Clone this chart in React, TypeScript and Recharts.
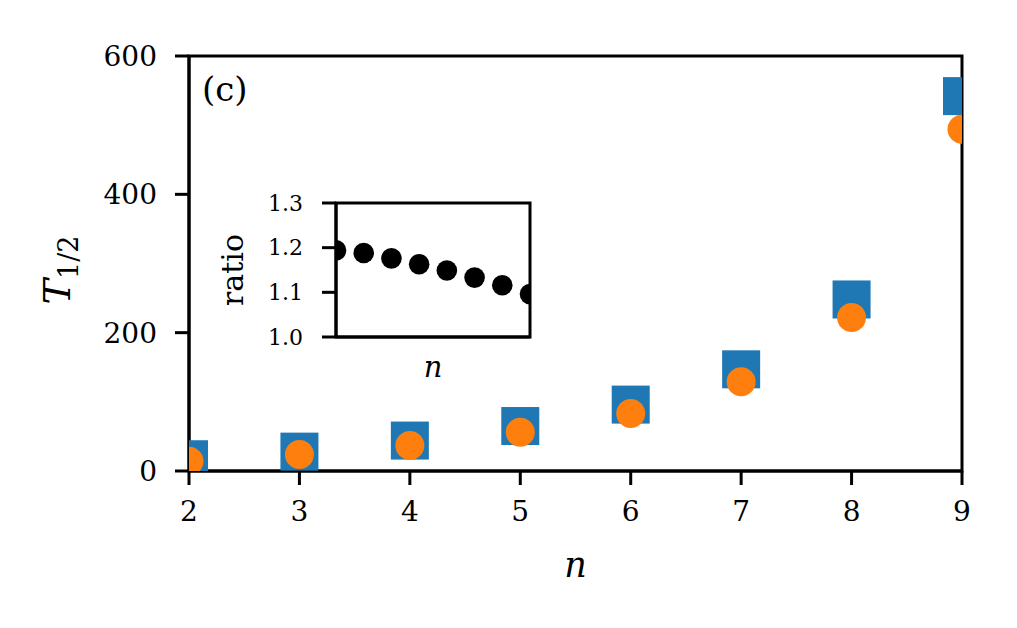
import React from 'react';
import { ScatterChart, Scatter, XAxis, YAxis, ReferenceArea } from 'recharts';

const nValues = [2, 3, 4, 5, 6, 7, 8, 9];
const squareT = [17, 28, 44, 65, 96, 147, 248, 542];
const circleT = [14, 24, 37, 56, 83, 129, 222, 494];
const ratioValues = [1.194, 1.188, 1.176, 1.163, 1.149, 1.133, 1.116, 1.096];

const xTicks = [2, 3, 4, 5, 6, 7, 8, 9];
const yTicks = [0, 200, 400, 600];
const insetYTicks = [1.0, 1.1, 1.2, 1.3];

const squareData = nValues.map((n, i) => ({ n, t: squareT[i] }));
const circleData = nValues.map((n, i) => ({ n, t: circleT[i] }));
const ratioData = nValues.map((n, i) => ({ n, r: ratioValues[i] }));

const FONT = '"DejaVu Serif", serif';
const BLUE = '#1f77b4';
const ORANGE = '#ff7f0e';

const W = 1017;
const H = 628;

// main plot area
const M = { left: 189, top: 56, right: 962, bottom: 471 };
// inset plot area
const I = { left: 336, top: 203, right: 530, bottom: 337 };

const SquareShape = (props: any) => {
  const { cx, cy } = props;
  if (cx == null || cy == null) return null;
  return <rect x={cx - 19} y={cy - 19} width={38} height={38} fill={BLUE} />;
};

const CircleShape = (props: any) => {
  const { cx, cy } = props;
  if (cx == null || cy == null) return null;
  return <circle cx={cx} cy={cy} r={14.5} fill={ORANGE} />;
};

const DotShape = (props: any) => {
  const { cx, cy } = props;
  if (cx == null || cy == null) return null;
  return <circle cx={cx} cy={cy} r={10.3} fill="#000" />;
};

const MainXLabel = (props: any) => {
  const vb = props.viewBox || { x: M.left, y: M.bottom, width: M.right - M.left };
  return (
    <text x={vb.x + vb.width / 2} y={vb.y + 106} textAnchor="middle" fontFamily={FONT} fontStyle="italic" fontSize={35} fill="#000">
      n
    </text>
  );
};

const MainYLabel = () => {
  const cx = 70;
  const cy = 270;
  return (
    <text x={cx} y={cy} transform={`rotate(-90 ${cx} ${cy})`} textAnchor="middle" fontFamily={FONT} fill="#000">
      <tspan fontStyle="italic" fontSize={38}>T</tspan>
      <tspan fontSize={27} dy={8}>1/2</tspan>
    </text>
  );
};

const PanelLabel = (props: any) => {
  const vb = props.viewBox || { x: M.left, y: M.top };
  return (
    <text x={vb.x + 13} y={vb.y + 45} fontFamily={FONT} fontSize={34} fill="#000">
      (c)
    </text>
  );
};

const InsetXLabel = (props: any) => {
  const vb = props.viewBox || { x: I.left, y: I.bottom, width: I.right - I.left };
  return (
    <text x={vb.x + vb.width / 2} y={vb.y + 40} textAnchor="middle" fontFamily={FONT} fontStyle="italic" fontSize={29} fill="#000">
      n
    </text>
  );
};

const InsetYLabel = () => {
  const cx = 243;
  const cy = 270;
  return (
    <text x={cx} y={cy} transform={`rotate(-90 ${cx} ${cy})`} textAnchor="middle" fontFamily={FONT} fontSize={30} fill="#000">
      ratio
    </text>
  );
};

const axisStroke = { stroke: '#000', strokeWidth: 3 };

export default function App() {
  return (
    <div style={{ position: 'absolute', left: 0, top: 0, width: W, height: H, background: '#fff', fontFamily: FONT }}>
      <div style={{ position: 'absolute', left: 0, top: 0 }}>
        <ScatterChart
          width={W}
          height={H}
          margin={{ top: M.top, right: W - M.right, bottom: 0, left: 0 }}
        >
          <XAxis
            type="number"
            dataKey="n"
            domain={[2, 9]}
            ticks={xTicks}
            allowDataOverflow
            height={H - M.bottom}
            axisLine={axisStroke}
            tickLine={axisStroke}
            tickSize={14}
            tickMargin={16}
            tick={{ fill: '#000', fontSize: 28, fontFamily: FONT }}
            label={<MainXLabel />}
          />
          <YAxis
            type="number"
            dataKey="t"
            domain={[0, 600]}
            ticks={yTicks}
            allowDataOverflow
            width={M.left}
            axisLine={axisStroke}
            tickLine={axisStroke}
            tickSize={14}
            tickMargin={18}
            tick={{ fill: '#000', fontSize: 28, fontFamily: FONT }}
            label={<MainYLabel />}
          />
          <Scatter data={squareData} shape={SquareShape} isAnimationActive={false} />
          <Scatter data={circleData} shape={CircleShape} isAnimationActive={false} />
          <ReferenceArea
            x1={2}
            x2={9}
            y1={0}
            y2={600}
            fill="none"
            fillOpacity={0}
            stroke="#000"
            strokeWidth={3}
            label={<PanelLabel />}
          />
        </ScatterChart>
      </div>
      <div style={{ position: 'absolute', left: 0, top: 0 }}>
        <ScatterChart
          width={W}
          height={H}
          margin={{ top: I.top, right: W - I.right, bottom: 0, left: 0 }}
        >
          <XAxis
            type="number"
            dataKey="n"
            domain={[2, 9]}
            allowDataOverflow
            height={H - I.bottom}
            axisLine={axisStroke}
            tick={false}
            tickLine={false}
            label={<InsetXLabel />}
          />
          <YAxis
            type="number"
            dataKey="r"
            domain={[1.0, 1.3]}
            ticks={insetYTicks}
            allowDataOverflow
            width={I.left}
            axisLine={axisStroke}
            tickLine={axisStroke}
            tickSize={14}
            tickMargin={19}
            tickFormatter={(v: number) => v.toFixed(1)}
            tick={{ fill: '#000', fontSize: 22, fontFamily: FONT }}
            label={<InsetYLabel />}
          />
          <Scatter data={ratioData} shape={DotShape} isAnimationActive={false} />
          <ReferenceArea
            x1={2}
            x2={9}
            y1={1.0}
            y2={1.3}
            fill="none"
            fillOpacity={0}
            stroke="#000"
            strokeWidth={3}
          />
        </ScatterChart>
      </div>
    </div>
  );
}
